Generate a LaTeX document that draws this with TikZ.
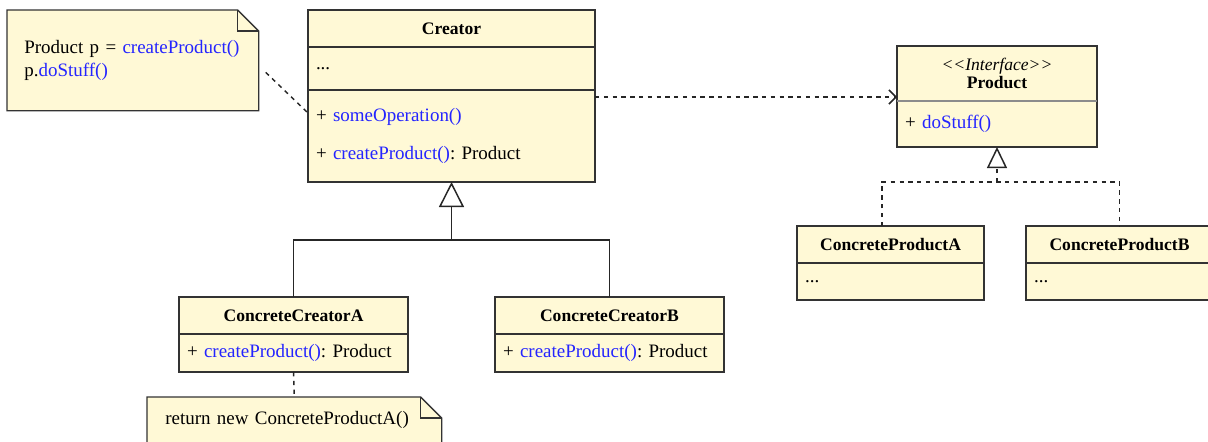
\documentclass[tikz,border=0pt]{standalone}
\usepackage{fontspec}
\setmainfont{Liberation Serif}
\usepackage{tikz}
\usetikzlibrary{positioning,arrows.meta,calc,backgrounds}
\definecolor{boxfill}{HTML}{FFF9D6}
\definecolor{boxline}{HTML}{333333}
\definecolor{sepgray}{HTML}{8C8C8C}
\definecolor{method}{HTML}{2424FF}
\frenchspacing

\begin{document}
\begin{tikzpicture}[
        font=\fontsize{10.8}{13}\selectfont,
        head/.style={rectangle, draw=boxline, fill=boxfill, line width=0.8pt,
        minimum width=#1, minimum height=0.74cm, inner sep=0pt, outer sep=0pt,
        font=\bfseries, anchor=north west},
        part/.style={rectangle, draw=boxline, fill=boxfill, line width=0.8pt,
        text width=#1, inner xsep=0.16cm, inner ysep=0pt, outer sep=0pt,
        align=left},
        note/.style={rectangle, anchor=north west, text width=#1,
        inner xsep=0.34cm, inner ysep=0pt, align=left},
        notebox/.style={draw=boxline, fill=boxfill, line width=0.8pt},
        conn/.style={line width=0.85pt, black!85},
        dline/.style={conn, dash pattern=on 2.5pt off 2.5pt},
        dep/.style={dline, -{Straight Barb[length=1.4mm, width=2.8mm]}},
        inherit/.style={conn, -{Triangle[open, length=0.5cm, width=0.5cm]}},
        realize/.style={dline, -{Triangle[open, length=0.42cm, width=0.4cm]}},
      ]
      \useasboundingbox (0, 0) rectangle (24.16, -8.82);

      % creator side
      \node[head=5.74cm] (creatorhd) at (6.16, -0.2) {Creator};
      \node[part=5.42cm, minimum height=0.86cm, below=0pt of creatorhd]
      (creatorattr) {...};
      \node[part=5.42cm, minimum height=1.84cm, below=0pt of creatorattr]
      (creatormeth) {+ \textcolor{method}{someOperation()}\\[8.5pt]
      + \textcolor{method}{createProduct()}: Product};

      \node[head=4.58cm] (ccAhd) at (3.58, -5.94) {ConcreteCreatorA};
      \node[part=4.26cm, minimum height=0.76cm, below=0pt of ccAhd]
      (ccAbody) {+ \textcolor{method}{createProduct()}: Product};
      \node[head=4.58cm] (ccBhd) at (9.90, -5.94) {ConcreteCreatorB};
      \node[part=4.26cm, minimum height=0.76cm, below=0pt of ccBhd]
      (ccBbody) {+ \textcolor{method}{createProduct()}: Product};

      % product side
      \node[head=4.0cm, minimum height=1.10cm, align=center] (prodhd) at
      (17.94, -0.92) {\textit{\mdseries <{}<Interface>{}>}\\[-1.4pt]Product};
      \node[part=3.68cm, minimum height=0.92cm, below=0pt of prodhd]
      (prodmeth) {+ \textcolor{method}{doStuff()}};
      \draw[sepgray, line width=0.8pt] (prodhd.south west) -- (prodhd.south east);

      \node[head=3.74cm] (cpAhd) at (15.94, -4.52) {ConcreteProductA};
      \node[part=3.42cm, minimum height=0.74cm, below=0pt of cpAhd]
      (cpAbody) {...};
      \node[head=3.74cm] (cpBhd) at (20.52, -4.52) {ConcreteProductB};
      \node[part=3.42cm, minimum height=0.74cm, below=0pt of cpBhd]
      (cpBbody) {...};

      % notes
      \node[note=4.34cm, minimum width=5.02cm, minimum height=2.0cm] (note1)
      at (0.14, -0.2) {Product p = \textcolor{method}{createProduct()}\\
      p.\textcolor{method}{doStuff()}};
      \node[note=5.16cm, inner xsep=0.36cm, minimum width=5.88cm,
      minimum height=0.92cm] (note2) at (2.94, -7.94)
      {return new ConcreteProductA()};

      \begin{scope}[on background layer]
        \foreach \n in {note1, note2} {
          \draw[notebox] (\n.north west) -- ([xshift=-0.42cm]\n.north east)
          -- ([yshift=-0.42cm]\n.north east) -- (\n.south east)
          -- (\n.south west) -- cycle;
          \draw[notebox, fill=none] ([xshift=-0.42cm]\n.north east)
          |- ([yshift=-0.42cm]\n.north east);
        }
      \end{scope}

      % connectors
      \draw[dline] ([shift={(0.14, -0.24)}]note1.east)
      -- ([yshift=-0.46cm]creatormeth.north west);
      \draw[dline] (ccAbody.south) -- (note2.north);
      \draw[dep] ([yshift=-0.14cm]creatormeth.north east)
      -- ([yshift=-0.14cm]creatormeth.north east -| prodhd.west);

      \draw[conn] (ccAhd.north) -- ++(0, 1.14) -| (ccBhd.north);
      \draw[inherit] ([yshift=-1.16cm]creatormeth.south) -- (creatormeth.south);

      \draw[dline] ([xshift=-0.17cm]cpAhd.north) -- ++(0, 0.88) -| (cpBhd.north);
      \draw[realize] ([yshift=-0.7cm]prodmeth.south) -- (prodmeth.south);
    \end{tikzpicture}
\end{document}
